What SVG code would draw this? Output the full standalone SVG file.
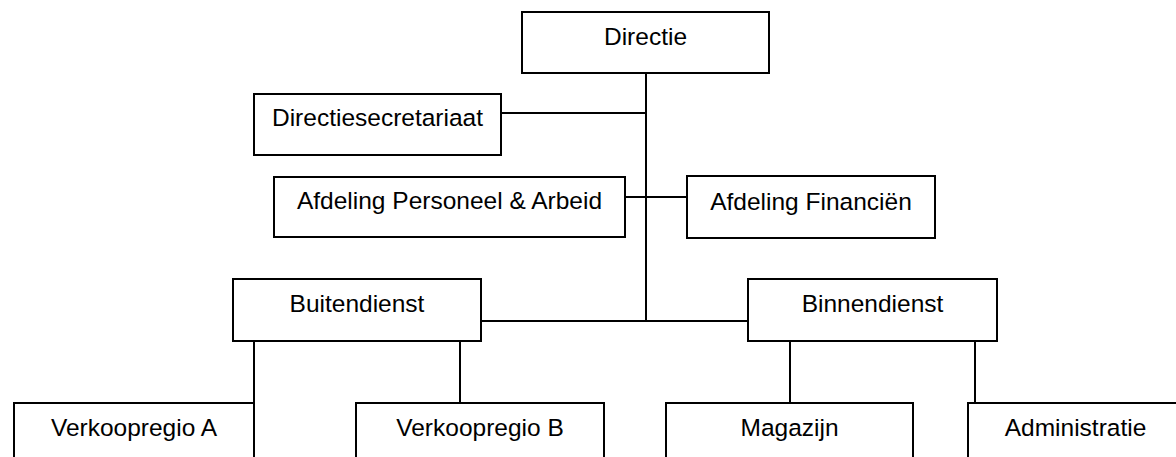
<svg xmlns="http://www.w3.org/2000/svg" width="1176" height="457" viewBox="0 0 1176 457">
<style>
.box{fill:#fff;stroke:#000;stroke-width:2}
.lbl{font-family:"Liberation Sans",Arial,sans-serif;font-size:24.5px;fill:#000;text-anchor:middle}
.con{fill:none;stroke:#000;stroke-width:2}
</style>
<rect width="1176" height="457" fill="#fff"/>
<g id="connectors">
<path class="con" d="M646 73V321"/>
<path class="con" d="M501 113H646"/>
<path class="con" d="M625 197H687"/>
<path class="con" d="M481 321H748"/>
<path class="con" d="M254 341V403"/>
<path class="con" d="M460 341V403"/>
<path class="con" d="M790 341V403"/>
<path class="con" d="M975 341V403"/>
</g>
<g id="directie"><rect class="box" x="522" y="12" width="247" height="61"/><text class="lbl" x="645.5" y="44.5">Directie</text></g>
<g id="directiesecretariaat"><rect class="box" x="254" y="94" width="247" height="61"/><text class="lbl" x="377.5" y="126">Directiesecretariaat</text></g>
<g id="afdeling-personeel"><rect class="box" x="274" y="177" width="351" height="60"/><text class="lbl" x="449.5" y="208.5">Afdeling Personeel &amp; Arbeid</text></g>
<g id="afdeling-financien"><rect class="box" x="687" y="176" width="248" height="62"/><text class="lbl" x="811" y="209.5">Afdeling Financiën</text></g>
<g id="buitendienst"><rect class="box" x="233" y="279" width="248" height="62"/><text class="lbl" x="357" y="312">Buitendienst</text></g>
<g id="binnendienst"><rect class="box" x="748" y="279" width="249" height="62"/><text class="lbl" x="872.5" y="312">Binnendienst</text></g>
<g id="verkoopregio-a"><rect class="box" x="14" y="403" width="240" height="80"/><text class="lbl" x="134" y="436">Verkoopregio A</text></g>
<g id="verkoopregio-b"><rect class="box" x="356" y="403" width="248" height="80"/><text class="lbl" x="480" y="436">Verkoopregio B</text></g>
<g id="magazijn"><rect class="box" x="666" y="403" width="247" height="80"/><text class="lbl" x="789.5" y="436">Magazijn</text></g>
<g id="administratie"><rect class="box" x="968" y="403" width="215" height="80"/><text class="lbl" x="1075.5" y="436">Administratie</text></g>
</svg>
